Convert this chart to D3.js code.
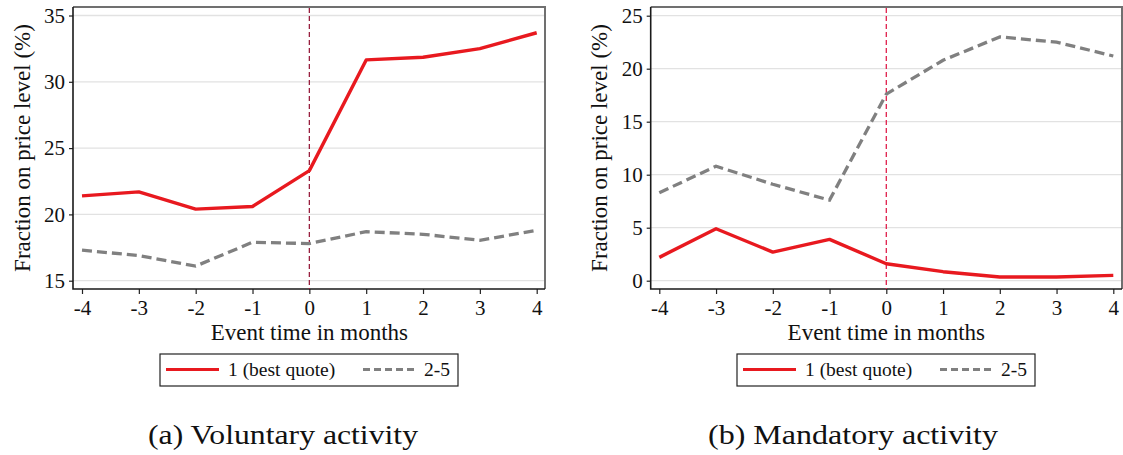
<!DOCTYPE html>
<html>
<head>
<meta charset="utf-8">
<script src="https://cdn.jsdelivr.net/npm/d3@7"></script>
<style>
  html, body { margin: 0; padding: 0; background: #fff; }
  svg { display: block; }
  svg text { font-family: "Liberation Serif", "Times New Roman", serif; fill: #111; }
</style>
</head>
<body>
<svg id="fig" width="1123" height="455"></svg>
<script>
// Event time (months relative to the event)
const eventMonths = [-4, -3, -2, -1, 0, 1, 2, 3, 4];

// Panel (a): voluntary activity, fraction on price level (%)
const voluntaryBest = [21.4, 21.7, 20.4, 20.6, 23.3, 31.65, 31.85, 32.5, 33.7];
const voluntaryNext = [17.3, 16.9, 16.1, 17.9, 17.8, 18.7, 18.5, 18.05, 18.8];
const voluntaryTicks = [15, 20, 25, 30, 35];

// Panel (b): mandatory activity, fraction on price level (%)
const mandatoryBest = [2.2, 4.9, 2.7, 3.9, 1.6, 0.85, 0.35, 0.35, 0.5];
const mandatoryNext = [8.3, 10.8, 9.1, 7.6, 17.6, 20.8, 23.0, 22.5, 21.2];
const mandatoryTicks = [0, 5, 10, 15, 20, 25];

const seriesNames = ["1 (best quote)", "2-5"];
const captions = ["(a) Voluntary activity", "(b) Mandatory activity"];

const SERIF = '"Liberation Serif", "Times New Roman", serif';

const svg = d3.select("#fig");

const panels = [
  {
    best: voluntaryBest, next: voluntaryNext, ticks: voluntaryTicks,
    frame: { left: 73, right: 545, top: 7, bottom: 289 },
    xRange: [82, 536.7], yRange: [280.7, 15.5],
    eventColor: "#98203f",
    legend: { x: 160, y: 354, w: 298, h: 32 },
    caption: { cx: 283, w: 270 },
    yTitleX: 22
  },
  {
    best: mandatoryBest, next: mandatoryNext, ticks: mandatoryTicks,
    frame: { left: 650.7, right: 1122, top: 7, bottom: 289 },
    xRange: [659.3, 1113.3], yRange: [280.7, 15.7],
    eventColor: "#e0204c",
    legend: { x: 737, y: 354, w: 298, h: 32 },
    caption: { cx: 853, w: 290 },
    yTitleX: 599
  }
];

panels.forEach((p, i) => {
  const g = svg.append("g").style("font-family", SERIF);
  const f = p.frame;
  const x = d3.scaleLinear().domain([-4, 4]).range(p.xRange);
  const y = d3.scaleLinear().domain(d3.extent(p.ticks)).range(p.yRange);

  // horizontal gridlines
  g.append("g").selectAll("line").data(p.ticks).join("line")
    .attr("x1", f.left).attr("x2", f.right)
    .attr("y1", d => y(d)).attr("y2", d => y(d))
    .attr("stroke", "#e2e2e2").attr("stroke-width", 1.3);

  // plot region outline (top and right)
  g.append("path")
    .attr("d", `M${f.left},${f.top}H${f.right}V${f.bottom}`)
    .attr("fill", "none").attr("stroke", "#707070").attr("stroke-width", 2);

  // y axis
  const yAxis = g.append("g")
    .attr("transform", `translate(${f.left},0)`)
    .call(d3.axisLeft(y).tickValues(p.ticks).tickSize(4).tickPadding(4).tickFormat(d => String(d)))
    .attr("font-family", null).attr("font-size", null);
  yAxis.select(".domain").remove();
  yAxis.selectAll(".tick line").attr("stroke", "#222").attr("stroke-width", 1.2);
  yAxis.selectAll(".tick text").style("font-size", "21px").attr("fill", "#111");

  // x axis
  const xAxis = g.append("g")
    .attr("transform", `translate(0,${f.bottom})`)
    .call(d3.axisBottom(x).tickValues(eventMonths).tickSize(5).tickPadding(6).tickFormat(d => String(d)))
    .attr("font-family", null).attr("font-size", null);
  xAxis.select(".domain").remove();
  xAxis.selectAll(".tick line").attr("stroke", "#222").attr("stroke-width", 1.2);
  xAxis.selectAll(".tick text").style("font-size", "21px").attr("fill", "#111");

  // axis lines
  g.append("path")
    .attr("d", `M${f.left},${f.top}V${f.bottom}H${f.right}`)
    .attr("fill", "none").attr("stroke", "#1a1a1a").attr("stroke-width", 1.6);

  // event line at t = 0
  g.append("line")
    .attr("x1", x(0)).attr("x2", x(0))
    .attr("y1", f.top + 1).attr("y2", f.bottom)
    .attr("stroke", p.eventColor).attr("stroke-width", 1.3)
    .attr("stroke-dasharray", "5,3");

  const line = d3.line().x((d, k) => x(eventMonths[k])).y(d => y(d));

  g.append("path").datum(p.next)
    .attr("d", line).attr("fill", "none")
    .attr("stroke", "#808080").attr("stroke-width", 3.3)
    .attr("stroke-dasharray", "10,5");

  g.append("path").datum(p.best)
    .attr("d", line).attr("fill", "none")
    .attr("stroke", "#e8191f").attr("stroke-width", 3.4)
    .attr("stroke-linejoin", "round");

  // axis titles
  g.append("text")
    .attr("transform", `translate(${p.yTitleX},${(f.top + f.bottom) / 2}) rotate(-90)`)
    .attr("text-anchor", "middle").attr("dominant-baseline", "central")
    .style("font-size", "23px")
    .text("Fraction on price level (%)");

  g.append("text")
    .attr("x", x(0)).attr("y", 340)
    .attr("text-anchor", "middle")
    .style("font-size", "23px")
    .text("Event time in months");

  // legend
  const L = p.legend;
  const lg = g.append("g").attr("transform", `translate(${L.x},${L.y})`);
  lg.append("rect").attr("width", L.w).attr("height", L.h)
    .attr("fill", "#fff").attr("stroke", "#222").attr("stroke-width", 1.2);
  const my = L.h / 2 - 0.5;
  lg.append("line").attr("x1", 6).attr("x2", 59).attr("y1", my).attr("y2", my)
    .attr("stroke", "#e8191f").attr("stroke-width", 3);
  lg.append("text").attr("x", 68).attr("y", my).attr("dy", "0.33em")
    .style("font-size", "19.5px").text(seriesNames[0]);
  lg.append("line").attr("x1", 203).attr("x2", 257).attr("y1", my).attr("y2", my)
    .attr("stroke", "#808080").attr("stroke-width", 3).attr("stroke-dasharray", "7,4");
  lg.append("text").attr("x", 264).attr("y", my).attr("dy", "0.33em")
    .style("font-size", "19.5px").text(seriesNames[1]);

  // sub-figure caption
  g.append("text")
    .attr("x", p.caption.cx - p.caption.w / 2).attr("y", 444)
    .attr("textLength", p.caption.w).attr("lengthAdjust", "spacingAndGlyphs")
    .style("font-size", "27px")
    .text(captions[i]);
});
</script>
</body>
</html>
